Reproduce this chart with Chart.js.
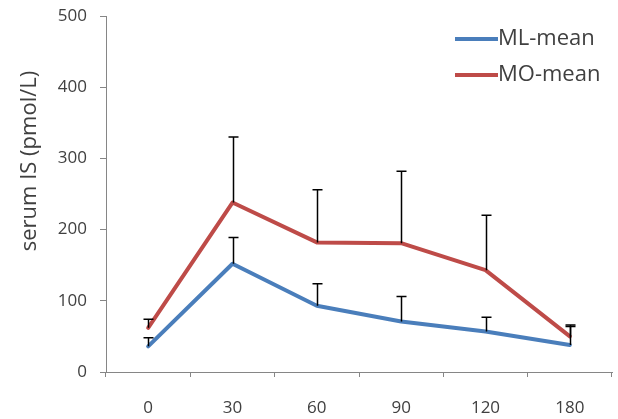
<!DOCTYPE html>
<html>
<head>
<meta charset="utf-8">
<script src="https://cdn.jsdelivr.net/npm/chart.js@4/dist/chart.umd.min.js"></script>
<style>
  html, body { margin: 0; padding: 0; background: #ffffff; }
  #wrap { width: 618px; height: 419px; }
</style>
</head>
<body>
<div id="wrap"><canvas id="chart" width="618" height="419"></canvas></div>
<script>
// Sampling times (minutes)
const timePoints = ['0', '30', '60', '90', '120', '180'];
// Serum IS means and upper error (SD), pmol/L
const mlMean = [36, 152, 93, 71, 57, 38];
const mlErr  = [12, 37, 31, 35, 20, 26];
const moMean = [62, 238, 182, 181, 143, 50];
const moErr  = [12, 92, 74, 101, 77, 16];
const seriesNames = ['ML-mean', 'MO-mean'];
const yAxisTitle = 'serum IS (pmol/L)';
const yMin = 0, yMax = 500, yStep = 100;

const FONT = '"Open Sans", "Noto Sans", "DejaVu Sans", sans-serif';
const BLUE = '#4a7ebb';
const RED = '#be4b48';
const AXIS = '#868686';
const TEXT = '#404040';

// Upward-only error bars with a flat cap
const errorBars = {
  id: 'errorBars',
  afterDatasetsDraw(chart) {
    const ctx = chart.ctx;
    const yScale = chart.scales.y;
    ctx.save();
    ctx.strokeStyle = '#000000';
    ctx.lineWidth = 1.5;
    chart.data.datasets.forEach((ds, di) => {
      const meta = chart.getDatasetMeta(di);
      meta.data.forEach((pt, i) => {
        const top = yScale.getPixelForValue(ds.data[i] + ds.errUp[i]);
        const x = Math.round(pt.x) + 0.5;
        ctx.beginPath();
        ctx.moveTo(x, pt.y);
        ctx.lineTo(x, top);
        ctx.moveTo(x - 5, top);
        ctx.lineTo(x + 5, top);
        ctx.stroke();
      });
    });
    ctx.restore();
  }
};

// Legend drawn in the upper right of the plot area
const sideLegend = {
  id: 'sideLegend',
  afterDraw(chart) {
    const ctx = chart.ctx;
    const area = chart.chartArea;
    ctx.save();
    ctx.font = '22px ' + FONT;
    ctx.textBaseline = 'middle';
    ctx.textAlign = 'left';
    chart.data.datasets.forEach((ds, i) => {
      const y = area.top + 23 + i * 36;
      const x0 = area.left + 349;
      ctx.strokeStyle = ds.borderColor;
      ctx.lineWidth = 4;
      ctx.beginPath();
      ctx.moveTo(x0, y);
      ctx.lineTo(x0 + 43, y);
      ctx.stroke();
      ctx.fillStyle = TEXT;
      ctx.fillText(ds.label, x0 + 43, y);
    });
    ctx.restore();
  }
};

// Rotated y-axis title
const yTitle = {
  id: 'yTitle',
  afterDraw(chart) {
    const ctx = chart.ctx;
    ctx.save();
    ctx.translate(30, 161);
    ctx.rotate(-Math.PI / 2);
    ctx.font = '22px ' + FONT;
    ctx.fillStyle = TEXT;
    ctx.textAlign = 'center';
    ctx.textBaseline = 'middle';
    ctx.fillText(yAxisTitle, 0, 0);
    ctx.restore();
  }
};

new Chart(document.getElementById('chart'), {
  type: 'line',
  data: {
    labels: timePoints,
    datasets: [
      { label: seriesNames[0], data: mlMean, errUp: mlErr, borderColor: BLUE, backgroundColor: BLUE },
      { label: seriesNames[1], data: moMean, errUp: moErr, borderColor: RED, backgroundColor: RED }
    ]
  },
  options: {
    responsive: false,
    animation: false,
    devicePixelRatio: 1,
    layout: { padding: { top: 16, right: 6, left: 0, bottom: 0 } },
    elements: {
      line: { borderWidth: 4, tension: 0, borderJoinStyle: 'round', borderCapStyle: 'round' },
      point: { radius: 0, hoverRadius: 0 }
    },
    plugins: {
      legend: { display: false },
      tooltip: { enabled: false }
    },
    scales: {
      x: {
        offset: true,
        grid: { offset: true, drawOnChartArea: false, drawTicks: true, tickLength: 5, color: AXIS },
        border: { color: AXIS, width: 1 },
        ticks: { color: TEXT, font: { family: FONT, size: 17 }, padding: 21, maxRotation: 0 },
        afterFit(scale) {
          scale.height = 47;
          scale.paddingLeft = 0;
          scale.paddingRight = 0;
        }
      },
      y: {
        min: yMin,
        max: yMax,
        grid: { drawOnChartArea: false, drawTicks: true, tickLength: 6, color: AXIS },
        border: { color: AXIS, width: 1 },
        ticks: { stepSize: yStep, color: TEXT, font: { family: FONT, size: 17 }, padding: 13 },
        afterFit(scale) {
          scale.width = 106;
          scale.paddingTop = 0;
          scale.paddingBottom = 0;
        }
      }
    }
  },
  plugins: [errorBars, sideLegend, yTitle]
});
</script>
</body>
</html>
